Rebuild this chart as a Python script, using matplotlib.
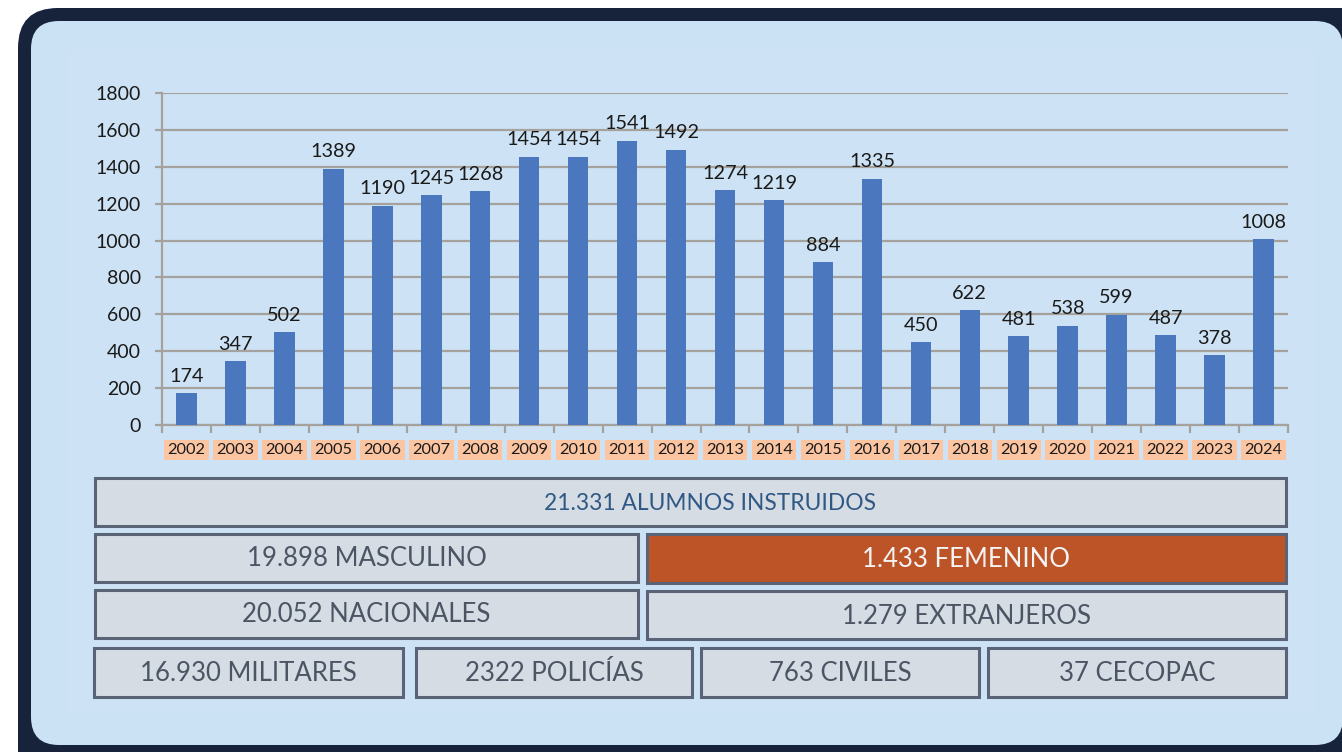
import matplotlib
matplotlib.use("Agg")
import matplotlib.pyplot as plt
from matplotlib.patches import FancyBboxPatch, Rectangle
import numpy as np

plt.rcParams['font.family'] = ['Lato', 'DejaVu Sans']

# ---------------- data ----------------
years = [str(y) for y in range(2002, 2025)]
alumnos = [174, 347, 502, 1389, 1190, 1245, 1268, 1454, 1454, 1541, 1492,
           1274, 1219, 884, 1335, 450, 622, 481, 538, 599, 487, 378, 1008]
y_ticks = [0, 200, 400, 600, 800, 1000, 1200, 1400, 1600, 1800]

total_label = "21.331 ALUMNOS INSTRUIDOS"
genero_labels = ["19.898 MASCULINO", "1.433 FEMENINO"]
origen_labels = ["20.052 NACIONALES", "1.279 EXTRANJEROS"]
tipo_labels = ["16.930 MILITARES", "2322 POLICÍAS", "763 CIVILES", "37 CECOPAC"]

# ---------------- figure ----------------
W, H = 1342, 752
fig = plt.figure(figsize=(W / 100, H / 100), dpi=100)
fig.patch.set_facecolor("white")

bg = fig.add_axes([0, 0, 1, 1])
bg.set_xlim(0, W)
bg.set_ylim(H, 0)
bg.axis("off")

navy = "#17223b"
panel = "#cbe2f5"
bg.add_patch(FancyBboxPatch((18 + 40, 8 + 40), 1380 - 80, 800 - 80,
                            boxstyle="round,pad=40", fc=navy, ec="none"))
bg.add_patch(FancyBboxPatch((31 + 28, 21 + 28), 1312 - 56, 724 - 56,
                            boxstyle="round,pad=28", fc=panel, ec="none"))
bg.add_patch(Rectangle((67, 50), 1247, 662, fc="#cde3f5", ec="none"))

# ---------------- bar chart ----------------
x0, x1, ytop, ybot = 162, 1288, 93, 425
ax = fig.add_axes([x0 / W, 1 - ybot / H, (x1 - x0) / W, (ybot - ytop) / H])
ax.set_facecolor("none")
xpos = np.arange(len(years))
bars = ax.bar(xpos, alumnos, width=0.42, color="#4a77bd", zorder=3)
ax.set_xlim(-0.5, len(years) - 0.5)
ax.set_ylim(0, 1800)
ax.set_yticks(y_ticks)
ax.set_yticklabels([str(t) for t in y_ticks], fontsize=14, color="#1a1a1a")
ax.yaxis.grid(True, color="#a5a19c", linewidth=1.6, zorder=0)
ax.set_axisbelow(True)
for s in ["top", "right"]:
    ax.spines[s].set_visible(False)
for s in ["left", "bottom"]:
    ax.spines[s].set_color("#a5a19c")
    ax.spines[s].set_linewidth(1.6)
ax.tick_params(axis="y", length=5, width=1.6, color="#a5a19c", pad=10)

# minor ticks at category boundaries on x
ax.set_xticks(np.arange(-0.5, len(years) + 0.5, 1), minor=True)
ax.tick_params(axis="x", which="minor", length=6, width=1.6, color="#a5a19c")
ax.set_xticks(xpos)
ax.set_xticklabels(years, fontsize=11.8, color="#1a1a1a")
ax.tick_params(axis="x", which="major", length=0, pad=13)
for lbl in ax.get_xticklabels():
    lbl.set_bbox(dict(boxstyle="square,pad=0.2", fc="#fcc5a2", ec="none"))

for b, v in zip(bars, alumnos):
    ax.annotate(str(v), (b.get_x() + b.get_width() / 2, v),
                xytext=(0, 6), textcoords="offset points",
                ha="center", va="bottom", fontsize=14.3, color="#1a1a1a")

# ---------------- summary boxes ----------------
box_fc = "#d6dce4"
box_ec = "#5b6477"
text_c = "#4c5564"


def box(x, y, w, h, text, fc=box_fc, tc=text_c, fs=18.5, dx=0):
    bg.add_patch(Rectangle((x, y), w, h, fc=fc, ec=box_ec, lw=2.2))
    bg.text(x + w / 2 + dx, y + h / 2 + 1, text, ha="center", va="center",
            fontsize=fs, color=tc)


box(95, 478, 1191, 48, total_label, tc="#2f5885", fs=16.4, dx=20)
box(95, 534, 543, 48, genero_labels[0])
box(647, 534, 639, 49, genero_labels[1], fc="#bd5427", tc="#f3f3f3")
box(95, 590, 543, 48, origen_labels[0])
box(647, 591, 639, 48, origen_labels[1])
row4 = [(94, 309), (416, 276), (701, 278), (988, 298)]
for (bx, bw), t in zip(row4, tipo_labels):
    box(bx, 648, bw, 49, t)

fig.savefig("out.png", dpi=100, facecolor=fig.get_facecolor())
